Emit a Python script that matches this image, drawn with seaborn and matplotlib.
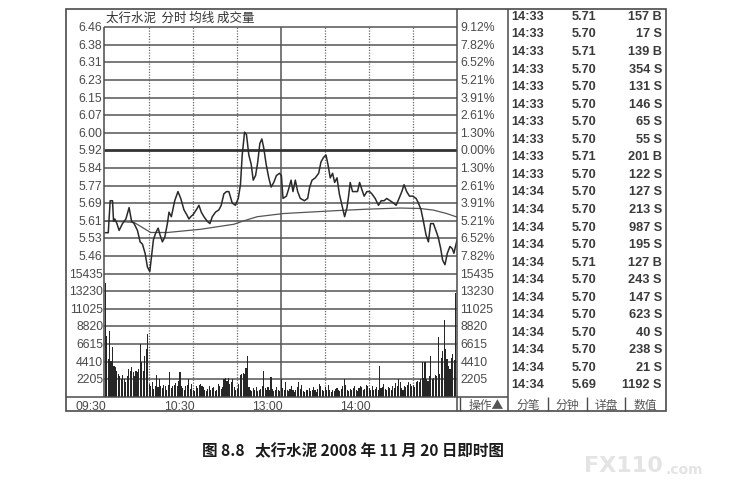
import matplotlib
matplotlib.use("Agg")
import matplotlib.pyplot as plt
import seaborn as sns
import numpy as np
from matplotlib.lines import Line2D
from matplotlib.patches import Rectangle

sns.set_theme(style="white")
plt.rcParams['font.family'] = ['Liberation Sans', 'Noto Sans CJK SC', 'DejaVu Sans']

# ---------------- data ----------------
prev_close = 5.92
price_minutes = [0, 2.1, 3.4, 5.0, 5.7, 6.6, 8.0, 9.5, 11.8, 14.1, 16.3, 18.0, 19.7, 22.0,
                 23.8, 25.4, 27.2, 28.8, 30.4, 31.5, 32.9, 34.5, 36.1, 37.4, 39.0, 40.6,
                 42.4, 43.5, 45.1, 47.4, 49.6, 51.5, 53.7, 55.5, 57.1, 58.3, 60.0, 62.1,
                 63.9, 65.5, 67.3, 69.6, 71.4, 73.0, 75.2, 77.5, 79.1, 80.9, 82.7, 84.3,
                 86.6, 88.8, 90.7, 92.2, 93.4, 95.0, 96.3, 97.9, 99.5, 100.9, 102.5, 104.0,
                 105.4, 106.8, 108.1, 109.7, 111.5, 113.1, 114.9, 116.7, 118.8, 120.1,
                 121.2, 123.5, 125.0, 126.7, 128.0, 129.6, 131.2, 133.0, 135.8, 138.0,
                 139.4, 141.0, 143.2, 145.5, 147.1, 148.9, 150.5, 151.8, 153.4, 155.0,
                 156.4, 158.0, 159.6, 161.4, 163.2, 164.8, 165.9, 167.0, 168.6, 170.4,
                 172.0, 173.4, 174.9, 176.5, 178.4, 180.2, 181.8, 184.0, 186.3, 188.1,
                 190.1, 191.9, 194.2, 196.5, 198.3, 200.3, 202.2, 203.7, 205.5, 207.4,
                 209.6, 211.9, 213.5, 215.3, 216.9, 218.7, 220.3, 221.8, 223.7, 225.4,
                 227.0, 228.7, 230.0, 231.6, 233.2, 235.0, 236.6, 237.7, 239.5, 240.0]
price_values = [5.56, 5.56, 5.70, 5.70, 5.61, 5.62, 5.60, 5.57, 5.60, 5.62, 5.67, 5.61,
                5.60, 5.57, 5.52, 5.51, 5.47, 5.41, 5.39, 5.45, 5.53, 5.56, 5.58, 5.55,
                5.52, 5.54, 5.60, 5.65, 5.63, 5.70, 5.74, 5.71, 5.66, 5.64, 5.62, 5.63,
                5.64, 5.66, 5.68, 5.65, 5.63, 5.61, 5.60, 5.63, 5.65, 5.66, 5.68, 5.73,
                5.74, 5.74, 5.69, 5.68, 5.71, 5.77, 5.90, 6.00, 5.99, 5.90, 5.86, 5.79,
                5.81, 5.87, 5.95, 5.97, 5.93, 5.86, 5.80, 5.76, 5.78, 5.81, 5.82, 5.81,
                5.71, 5.72, 5.75, 5.79, 5.74, 5.79, 5.74, 5.71, 5.70, 5.71, 5.76, 5.79,
                5.80, 5.82, 5.87, 5.89, 5.90, 5.86, 5.80, 5.82, 5.78, 5.80, 5.73, 5.68,
                5.63, 5.67, 5.72, 5.78, 5.74, 5.74, 5.74, 5.78, 5.75, 5.72, 5.74, 5.74,
                5.73, 5.71, 5.68, 5.70, 5.70, 5.71, 5.70, 5.69, 5.68, 5.71, 5.74, 5.77,
                5.74, 5.72, 5.72, 5.71, 5.69, 5.66, 5.61, 5.55, 5.52, 5.60, 5.60, 5.57,
                5.54, 5.49, 5.44, 5.42, 5.47, 5.50, 5.49, 5.47, 5.52, 5.53]
avg_minutes = [0, 2.2, 19.7, 31.0, 37.9, 42.4, 65.0, 87.7, 94.5, 103.6, 121.7, 155.7,
               178.4, 201.0, 214.6, 223.7, 232.7, 240.0]
avg_values = [5.61, 5.612, 5.605, 5.561, 5.561, 5.561, 5.575, 5.597, 5.612, 5.630, 5.644,
              5.656, 5.663, 5.668, 5.666, 5.659, 5.644, 5.628]
volume = [14200, 7650, 4700, 8280, 4500, 6200, 3900, 3700, 3260, 2840,
          2630, 2200, 2700, 2200, 1800, 2630, 3470, 3260, 3700, 3050,
          2630, 3260, 3050, 3470, 6600, 4300, 3260, 5140, 5980, 7860,
          1600, 1380, 1800, 960, 1400, 2700, 1200, 2200, 1400, 1100,
          1500, 1300, 900, 1500, 3050, 1100, 1300, 1500, 1700, 1300,
          2000, 3050, 1300, 1100, 900, 1300, 1500, 2200, 1000, 1600,
          800, 700, 1300, 1100, 1500, 1600, 1400, 1200, 900, 700,
          1000, 1300, 800, 1100, 1200, 700, 900, 1600, 1300, 1000,
          1200, 2200, 2400, 2000, 2300, 1600, 1900, 2200, 1200, 900,
          1000, 1600, 2700, 2800, 3000, 2800, 3600, 5060, 1200, 900,
          700, 1100, 900, 1200, 700, 800, 1000, 1400, 3260, 1100,
          900, 1200, 800, 2420, 1000, 700, 900, 1200, 800, 700,
          2200, 1100, 800, 1800, 900, 700, 1000, 1300, 800, 600,
          900, 1200, 1880, 1000, 1500, 700, 600, 900, 800, 1100,
          700, 900, 1200, 800, 600, 1000, 1600, 1400, 800, 700,
          1200, 900, 1500, 800, 600, 900, 700, 1000, 1100, 800,
          700, 1000, 1300, 2200, 1500, 900, 700, 1000, 800, 1100,
          1400, 900, 700, 1100, 1300, 1200, 800, 1000, 1500, 1300,
          1100, 800, 1400, 900, 1000, 1200, 800, 3900, 1100, 1200,
          1600, 1000, 800, 1200, 1100, 900, 1300, 1100, 1700, 1400,
          2200, 1800, 1100, 900, 1300, 1200, 1500, 1800, 1600, 1300,
          1500, 1200, 1800, 2000, 1800, 2200, 4300, 2400, 4300, 2200,
          2000, 2600, 5050, 2200, 2400, 2700, 2600, 7440, 2800, 4900,
          5770, 9600, 5960, 4700, 3900, 3500, 4900, 5300, 4600, 13000]
volume_minutes = list(range(len(volume)))

price_tick_labels = ["6.46", "6.38", "6.31", "6.23", "6.15", "6.07", "6.00", "5.92",
                     "5.84", "5.77", "5.69", "5.61", "5.53", "5.46"]
pct_tick_labels = ["9.12%", "7.82%", "6.52%", "5.21%", "3.91%", "2.61%", "1.30%", "0.00%",
                   "1.30%", "2.61%", "3.91%", "5.21%", "6.52%", "7.82%"]
price_tick_steps = [7, 6, 5, 4, 3, 2, 1, 0, -1, -2, -3, -4, -5, -6]
vol_ticks = [15435, 13230, 11025, 8820, 6615, 4410, 2205]
vol_tick_labels = ["15435", "13230", "11025", "8820", "6615", "4410", "2205"]
time_tick_minutes = [0, 60, 120, 180]
time_tick_labels = ["09:30", "10:30", "13:00", "14:00"]
grid_minutes = [30, 60, 90, 150, 180, 210]
midday_minute = 120

trade_times = ["14:33"] * 10 + ["14:34"] * 12
trade_prices = ["5.71", "5.70", "5.71", "5.70", "5.70", "5.70", "5.70", "5.70", "5.71", "5.70",
                "5.70", "5.70", "5.70", "5.70", "5.71", "5.70", "5.70", "5.70", "5.70", "5.70",
                "5.70", "5.69"]
trade_vols = ["157 B", "17 S", "139 B", "354 S", "131 S", "146 S", "65 S", "55 S", "201 B",
              "122 S", "127 S", "213 S", "987 S", "195 S", "127 B", "243 S", "147 S", "623 S",
              "40 S", "238 S", "21 S", "1192 S"]
buttons = ["分笔", "分钟", "详盘", "数值"]
chart_title = "太行水泥  分时 均线 成交量"
caption = "图 8.8   太行水泥 2008 年 11 月 20 日即时图"

# ---------------- layout ----------------
W, H = 738, 489
fig = plt.figure(figsize=(W / 100, H / 100), dpi=100)
fig.patch.set_facecolor("white")


def fbox(x0, y0, x1, y1):
    return [x0 / W, 1 - y1 / H, (x1 - x0) / W, (y1 - y0) / H]


PX0, PX1 = 104.3, 457.3
PY_TOP, Y_TOPGRID, Y0 = 9.5, 28.3, 397.7
row = (Y0 - Y_TOPGRID) / 21
step = prev_close * 0.013
extra_rows = (Y_TOPGRID - PY_TOP) / row
price_top = prev_close + (7 + extra_rows) * step
price_bottom = prev_close - 14 * step
XMIN, XMAX = -0.6, 240

GRID = "#555555"
TXT = "#4a4a4a"

axv = fig.add_axes(fbox(PX0, PY_TOP, PX1, Y0))
ax = fig.add_axes(fbox(PX0, PY_TOP, PX1, Y0))
axv.set_facecolor("white")
ax.set_facecolor("none")
ax.patch.set_visible(False)

# volume bars
sns.barplot(x=volume_minutes, y=volume, native_scale=True, ax=axv, color="#262626",
            width=0.75, linewidth=0, saturation=1, errorbar=None, zorder=3)
axv.set_ylim(0, 2205 * (21 + extra_rows))
axv.set_xlim(XMIN, XMAX)

# grid
axv.hlines(vol_ticks, XMIN, XMAX, colors=GRID, lw=1.1, zorder=1)
for m in grid_minutes:
    axv.vlines(m, 0, 2205 * 21, colors="#6a6a6a", lw=0.9, linestyles=[(0, (1, 1.2))], zorder=1)
axv.vlines(midday_minute, 0, 2205 * 21, colors=GRID, lw=1.1, zorder=1)

# price grid + lines
grid_prices = [prev_close + k * step for k in price_tick_steps]
ax.hlines([g for g, k in zip(grid_prices, price_tick_steps) if k != 0], XMIN, XMAX,
          colors=GRID, lw=1.1, zorder=2)
ax.hlines([prev_close], XMIN, XMAX, colors="#333333", lw=2.0, zorder=2)
sns.lineplot(x=avg_minutes, y=avg_values, ax=ax, color="#555555", lw=0.9, sort=False,
             estimator=None, zorder=4)
sns.lineplot(x=price_minutes, y=price_values, ax=ax, color="#2a2a2a", lw=1.1, sort=False,
             estimator=None, zorder=5)
ax.set_ylim(price_bottom, price_top)

for a in (axv, ax):
    a.set_xlim(XMIN, XMAX)
    a.set_xticks([])
    a.set_yticks([])
    a.set_xlabel("")
    a.set_ylabel("")
    for s in a.spines.values():
        s.set_visible(False)

# axis labels
yt = ax.get_yaxis_transform()
xl = (101.8 - PX0) / (PX1 - PX0)
xr = (460.5 - PX0) / (PX1 - PX0)
fs = 8.8
for k, lab, pl in zip(price_tick_steps, price_tick_labels, pct_tick_labels):
    yy = prev_close + k * step
    ax.text(xl, yy, lab, transform=yt, ha="right", va="center", fontsize=fs, color=TXT)
    ax.text(xr, yy, pl, transform=yt, ha="left", va="center", fontsize=fs, color=TXT)
ytv = axv.get_yaxis_transform()
for v, lab in zip(vol_ticks, vol_tick_labels):
    axv.text(xl + 0.004, v, lab, transform=ytv, ha="right", va="center", fontsize=fs, color=TXT)
    axv.text(xr, v, lab, transform=ytv, ha="left", va="center", fontsize=fs, color=TXT)
xt = ax.get_xaxis_transform()
yb = (Y0 - 406.5) / (Y0 - PY_TOP)
for m, lab in zip(time_tick_minutes, time_tick_labels):
    ax.text(m + 1.0, yb, lab, transform=xt, ha="right", va="center", fontsize=fs, color=TXT)

# overlay with frames, table and texts (pixel coordinates)
ao = fig.add_axes([0, 0, 1, 1])
ao.set_xlim(0, W)
ao.set_ylim(H, 0)
ao.axis("off")
FR = "#4a4a4a"


def seg(x0, y0, x1, y1, lw=1.1, c=FR):
    ao.add_line(Line2D([x0, x1], [y0, y1], color=c, lw=lw, solid_capstyle="butt"))


ao.add_patch(Rectangle((65.5, 9.5), 665.5 - 65.5, 412 - 9.5, fill=False, ec=FR, lw=1.2))
seg(PX0, Y_TOPGRID, PX0, 398.3)
seg(PX1, 9.5, PX1, 412)
seg(460.3, 398.3, 460.3, 412, lw=1.0)
seg(65.5, 398.3, 508, 398.3)
seg(508, 9.5, 508, 412)
for bx in [548, 587, 625]:
    seg(bx, 398.3, bx, 412, lw=1.0)

ao.text(106, 18.5, chart_title, ha="left", va="center", fontsize=9, color="#333333",
        family=["Noto Sans CJK SC", "DejaVu Sans"])

# trade table
for i, (t, p, v) in enumerate(zip(trade_times, trade_prices, trade_vols)):
    yy = 16.9 + 17.55 * i
    ao.text(511.5, yy, t, ha="left", va="center", fontsize=9.2, fontweight="bold", color="#3a3a3a")
    ao.text(584, yy, p, ha="center", va="center", fontsize=9.2, fontweight="bold", color="#3a3a3a")
    ao.text(662, yy, v, ha="right", va="center", fontsize=9.2, fontweight="bold", color="#3a3a3a")

# bottom buttons
ao.text(486, 405.5, "操作▲", ha="center", va="center", fontsize=8.5, color="#555555",
        family=["Noto Sans CJK SC", "DejaVu Sans"])
for cx, b in zip([528.5, 567.5, 606, 645], buttons):
    ao.text(cx, 405.5, b, ha="center", va="center", fontsize=8.5, color="#555555",
            family=["Noto Sans CJK SC", "DejaVu Sans"])

# caption
ao.text(201.5, 451.5, caption, ha="left", va="center", fontsize=11.2, fontweight="bold",
        color="#1a1a1a", family=["Noto Sans CJK SC", "DejaVu Sans"])

# watermark
ao.text(584, 466, "FX110", ha="left", va="center", fontsize=16, fontweight="bold",
        color="#e4e4e4", family=["DejaVu Sans"])
ao.text(666, 470, ".com", ha="left", va="center", fontsize=10, fontweight="bold",
        color="#e4e4e4", family=["DejaVu Sans"])

fig.savefig("out.png", dpi=100, facecolor="white")
